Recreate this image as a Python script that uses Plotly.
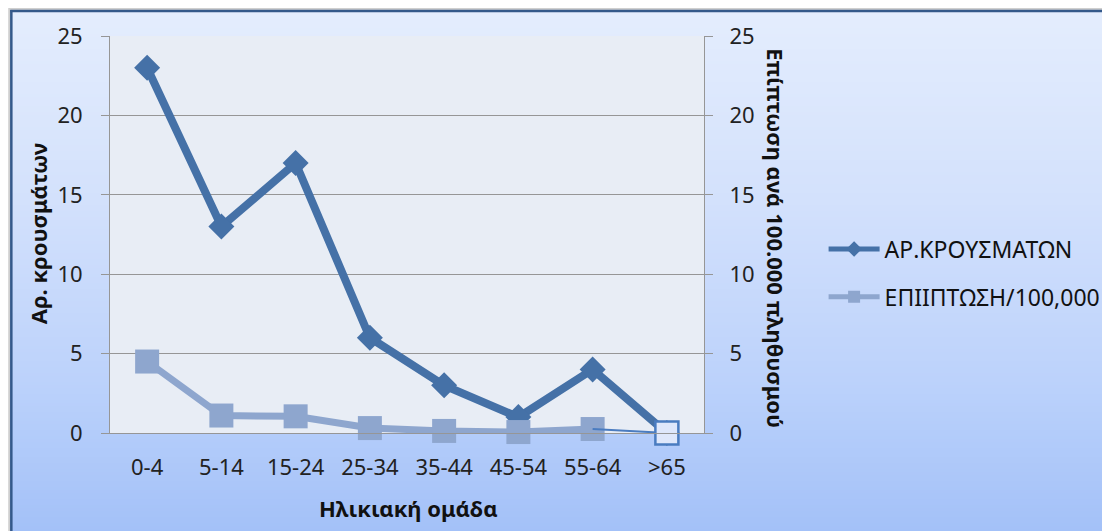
import plotly.graph_objects as go

# ---------------- data ----------------
categories = ["0-4", "5-14", "15-24", "25-34", "35-44", "45-54", "55-64", ">65"]
cases = [23, 13, 17, 6, 3, 1, 4, 0]
incidence = [4.5, 1.1, 1.05, 0.31, 0.13, 0.06, 0.25, 0.0]
y_ticks = [0, 5, 10, 15, 20, 25]
series_names = ["ΑΡ.ΚΡΟΥΣΜΑΤΩΝ", "ΕΠΙΙΠΤΩΣΗ/100,000"]
x_title = "Ηλικιακή ομάδα"
y_title = "Αρ. κρουσμάτων"
y2_title = "Επίπτωση ανά 100.000 πληθυσμού"

# ---------------- layout geometry (screen px, page has 8px body margin) ----------------
OFF = 8
W, H = 1110, 531
PL, PR, PT, PB = 110, 706, 36, 433          # plot area on screen
L, T = PL - OFF, PT - OFF
PW, PH = PR - PL, PB - PT
R = W - L - PW
B = H - T - PH

def px_x(sx):
    return (sx - PL) / PW

def px_y(sy):
    return (PB - sy) / PH

FONT = "Noto Sans"
C1 = "#4571a7"
C2 = "#8ea6ce"
GRID = "#969696"

fig = go.Figure()

fig.add_trace(go.Scatter(
    x=categories, y=cases, name=series_names[0], mode="lines+markers",
    line=dict(color=C1, width=8),
    marker=dict(symbol="diamond", size=20, color=C1),
    legendgroup="a", yaxis="y", cliponaxis=False,
))
fig.add_trace(go.Scatter(
    x=categories[:-1], y=incidence[:-1], name=series_names[1], mode="lines+markers",
    line=dict(color=C2, width=7),
    marker=dict(symbol="square", size=24, color=C2),
    legendgroup="b", yaxis="y2", cliponaxis=False,
))
fig.add_trace(go.Scatter(
    x=categories[-2:], y=incidence[-2:], mode="lines",
    line=dict(color="#4a7cc0", width=2),
    showlegend=False, yaxis="y2", hoverinfo="skip", cliponaxis=False,
))
fig.add_trace(go.Scatter(
    x=categories[-1:], y=incidence[-1:], mode="markers",
    marker=dict(symbol="square", size=23, color="#dfe8fb",
                line=dict(color="#4a7cc0", width=2.5)),
    showlegend=False, yaxis="y2", cliponaxis=False,
))

# ---------------- background gradient ----------------
stops = [(10, (228, 237, 253)), (200, (211, 225, 252)), (380, (188, 210, 251)), (531, (163, 193, 248))]

def grad(sy):
    for (y0, c0), (y1, c1) in zip(stops[:-1], stops[1:]):
        if y0 <= sy <= y1:
            f = (sy - y0) / (y1 - y0)
            return "rgb(%d,%d,%d)" % tuple(round(a + (b - a) * f) for a, b in zip(c0, c1))
    return "rgb(%d,%d,%d)" % stops[-1][1]

shapes = []
shapes.append(dict(type="rect", xref="paper", yref="paper",
                   x0=px_x(6), x1=px_x(W + 20), y0=px_y(H + 20), y1=px_y(6),
                   fillcolor="#ececec", line=dict(width=0), layer="below"))
shapes.append(dict(type="rect", xref="paper", yref="paper",
                   x0=px_x(8), x1=px_x(W + 20), y0=px_y(H + 20), y1=px_y(8),
                   fillcolor="#cfcfcf", line=dict(width=0), layer="below"))
step = 3
sy = 10
while sy < H + 10:
    shapes.append(dict(type="rect", xref="paper", yref="paper",
                       x0=px_x(10), x1=px_x(W + 20), y0=px_y(sy + step + 0.5), y1=px_y(sy),
                       fillcolor=grad(sy + step / 2), line=dict(width=0), layer="below"))
    sy += step
shapes.append(dict(type="line", xref="paper", yref="paper",
                   x0=px_x(10), x1=px_x(W + 20), y0=px_y(11), y1=px_y(11),
                   line=dict(color="#34598a", width=2.5), layer="below"))
shapes.append(dict(type="line", xref="paper", yref="paper",
                   x0=px_x(11), x1=px_x(11), y0=px_y(10), y1=px_y(H + 20),
                   line=dict(color="#34598a", width=2.5), layer="below"))
shapes.append(dict(type="rect", xref="paper", yref="paper", x0=0, x1=1, y0=0, y1=1,
                   fillcolor="#e8edf5", line=dict(width=0), layer="below"))

title_font = dict(family=FONT, size=22, color="#111111")
annotations = [
    dict(text="<b>%s</b>" % x_title, xref="paper", yref="paper",
         x=px_x(410), y=px_y(508), showarrow=False, xanchor="center", yanchor="middle",
         font=title_font),
    dict(text="<b>%s</b>" % y_title, xref="paper", yref="paper",
         x=px_x(38), y=px_y(234), showarrow=False, textangle=-90,
         xanchor="center", yanchor="middle", font=title_font),
    dict(text="<b>%s</b>" % y2_title, xref="paper", yref="paper",
         x=px_x(778), y=px_y(238), showarrow=False, textangle=90,
         xanchor="center", yanchor="middle", font=title_font),
]

tick_font = dict(family=FONT, size=22, color="#222222")
axis_common = dict(range=[0, 25], tickvals=y_ticks, showgrid=True, gridcolor=GRID, gridwidth=1,
                   showline=True, linecolor=GRID, linewidth=1, ticks="outside", ticklen=8,
                   tickcolor=GRID, zeroline=False, tickfont=tick_font)

fig.update_layout(
    width=W, height=H,
    margin=dict(l=L, r=R, t=T, b=B),
    paper_bgcolor="#ffffff",
    plot_bgcolor="rgba(0,0,0,0)",
    shapes=shapes,
    annotations=annotations,
    xaxis=dict(type="category", range=[-0.5, 7.5], showgrid=False, showline=True,
               linecolor=GRID, linewidth=1, ticks="", ticklabelstandoff=15,
               tickfont=tick_font),
    yaxis=dict(**axis_common, side="left", ticklabelstandoff=14),
    yaxis2=dict(**axis_common, side="right", overlaying="y", ticklabelstandoff=12),
    legend=dict(x=px_x(826), y=px_y(273), xanchor="left", yanchor="middle",
                bgcolor="rgba(0,0,0,0)", tracegroupgap=15, itemsizing="constant",
                itemwidth=51,
                font=dict(family=FONT, size=23, color="#111111")),
    showlegend=True,
)

fig.write_html("out.html")
